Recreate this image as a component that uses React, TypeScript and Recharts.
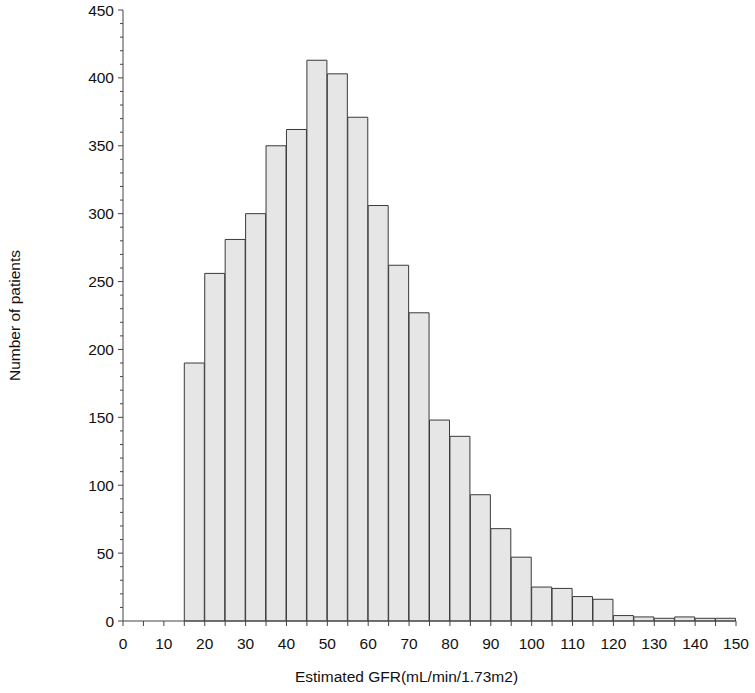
import React from 'react';
import { Bar, BarChart, Label, XAxis, YAxis } from 'recharts';

// histogram bins of width 5, starting at 15
const binStarts = [
  15, 20, 25, 30, 35, 40, 45, 50, 55, 60, 65, 70, 75, 80, 85, 90, 95, 100, 105,
  110, 115, 120, 125, 130, 135, 140, 145,
];
const patientCounts = [
  190, 256, 281, 300, 350, 362, 413, 403, 371, 306, 262, 227, 148, 136, 93, 68,
  47, 25, 24, 18, 16, 4, 3, 2, 3, 2, 2,
];
const binWidth = 5;

const xTicks = [
  0, 5, 10, 15, 20, 25, 30, 35, 40, 45, 50, 55, 60, 65, 70, 75, 80, 85, 90, 95,
  100, 105, 110, 115, 120, 125, 130, 135, 140, 145, 150,
];
const yTicks = [
  0, 10, 20, 30, 40, 50, 60, 70, 80, 90, 100, 110, 120, 130, 140, 150, 160, 170,
  180, 190, 200, 210, 220, 230, 240, 250, 260, 270, 280, 290, 300, 310, 320,
  330, 340, 350, 360, 370, 380, 390, 400, 410, 420, 430, 440, 450,
];

const xTitle = 'Estimated GFR(mL/min/1.73m2)';
const yTitle = 'Number of patients';

const chartData = binStarts.map((start, i) => ({
  mid: start + binWidth / 2,
  count: patientCounts[i],
}));

const FONT = '"Liberation Sans", Arial, sans-serif';
const TEXT = '#111';
const AXIS = '#444';
const TICK_SIZE = 5;
const TICK_MARGIN = 2;

const XTick = (props: any) => {
  const { x, y, payload } = props;
  if (payload.value % 10 !== 0) return null;
  return (
    <text x={x} y={y} dy={21} textAnchor="middle" fill={TEXT} fontSize={15.5} fontFamily={FONT}>
      {payload.value}
    </text>
  );
};

const YTick = (props: any) => {
  const { x, y, payload } = props;
  const axisX = x + TICK_SIZE + TICK_MARGIN;
  const major = payload.value % 50 === 0;
  const len = major ? 5 : 3;
  return (
    <g>
      <line x1={axisX - len} x2={axisX} y1={y} y2={y} stroke={AXIS} strokeWidth={1} />
      {major && (
        <text x={axisX - 9} y={y} dy={5.5} textAnchor="end" fill={TEXT} fontSize={15.5} fontFamily={FONT}>
          {payload.value}
        </text>
      )}
    </g>
  );
};

const YTitle = (props: any) => {
  const { viewBox } = props;
  const cx = viewBox.x + 20;
  const cy = viewBox.y + viewBox.height / 2;
  return (
    <text
      x={cx}
      y={cy}
      transform={`rotate(-90, ${cx}, ${cy})`}
      textAnchor="middle"
      fill={TEXT}
      fontSize={15.5}
      fontFamily={FONT}
    >
      {yTitle}
    </text>
  );
};

const XTitle = (props: any) => {
  const { viewBox } = props;
  const cx = viewBox.x + viewBox.width / 2 - 23;
  const cy = viewBox.y + 61;
  return (
    <text x={cx} y={cy} textAnchor="middle" fill={TEXT} fontSize={15.5} fontFamily={FONT}>
      {xTitle}
    </text>
  );
};

export default function App() {
  return (
    <div style={{ position: 'absolute', left: 0, top: 0, background: '#fff' }}>
      <BarChart
        width={755}
        height={693}
        data={chartData}
        margin={{ top: 10, right: 19, left: 0, bottom: 0 }}
        barCategoryGap={0}
        barGap={0}
      >
        <XAxis
          type="number"
          dataKey="mid"
          domain={[0, 150]}
          ticks={xTicks}
          interval={0}
          height={72}
          tickSize={TICK_SIZE}
          tickMargin={TICK_MARGIN}
          tick={<XTick />}
          axisLine={{ stroke: AXIS, strokeWidth: 1 }}
          tickLine={{ stroke: AXIS, strokeWidth: 1 }}
          allowDataOverflow
        >
          <Label content={<XTitle />} />
        </XAxis>
        <YAxis
          type="number"
          domain={[0, 450]}
          ticks={yTicks}
          interval={0}
          width={123}
          tickSize={TICK_SIZE}
          tickMargin={TICK_MARGIN}
          tick={<YTick />}
          tickLine={false}
          axisLine={{ stroke: AXIS, strokeWidth: 1 }}
        >
          <Label content={<YTitle />} />
        </YAxis>
        <Bar
          dataKey="count"
          fill="#e6e6e6"
          stroke="#3a3a3a"
          strokeWidth={1}
          isAnimationActive={false}
        />
      </BarChart>
    </div>
  );
}
